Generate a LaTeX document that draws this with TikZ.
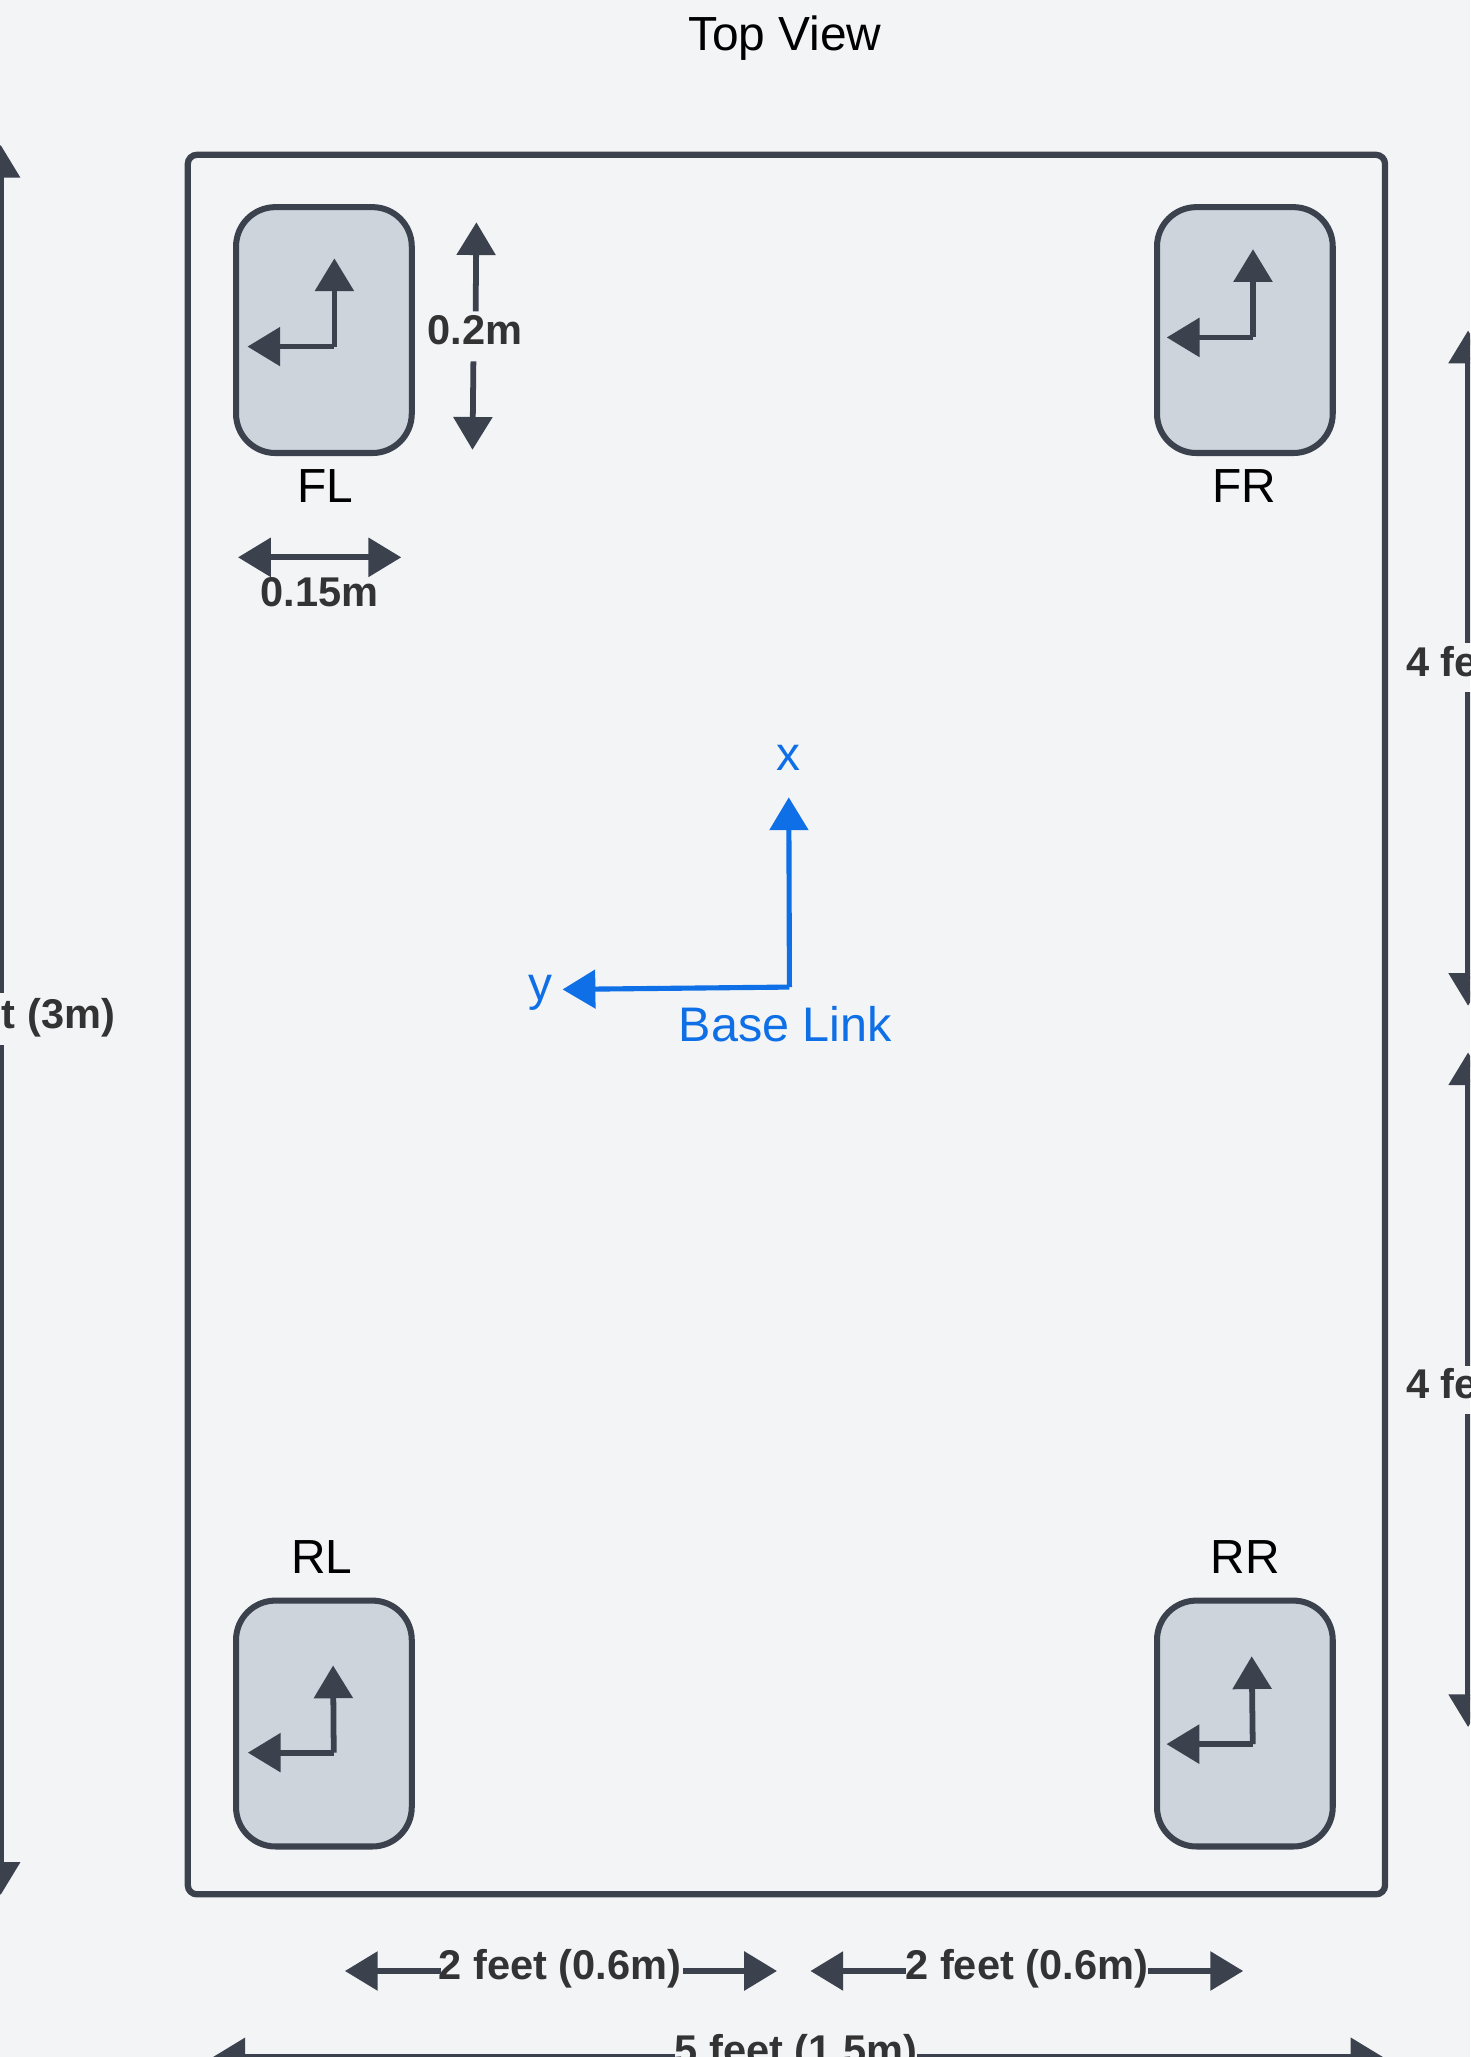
\documentclass[tikz,border=0pt]{standalone}
\usepackage{fontspec}
\setmainfont{Liberation Sans}
\usetikzlibrary{arrows.meta}
\definecolor{bgc}{HTML}{F3F4F6}
\definecolor{dark}{HTML}{3B424E}
\definecolor{wheelc}{HTML}{CDD4DC}
\definecolor{bluec}{HTML}{0E6FE6}
\definecolor{dimtxt}{HTML}{333333}
\tikzset{
  x=1pt,y=-1pt,
  tip/.style={-{Triangle[length=25pt,width=29pt]}},
  wline/.style={draw=dark,line width=4.4pt,tip},
  bline/.style={draw=bluec,line width=3.9pt,tip},
  dimline/.style={draw=dark,line width=4.4pt},
  wheelbox/.style={draw=dark,fill=wheelc,line width=4.6pt,rounded corners=30pt,minimum width=134pt,minimum height=187.5pt,inner sep=0pt},
  txt/.style={inner sep=0pt,anchor=base,font=\fontsize{36.5}{40}\selectfont,text=black},
  bluetxt/.style={txt,text=bluec},
  dimtext/.style={inner sep=0pt,anchor=base,font=\fontsize{31.7}{36}\selectfont\bfseries,text=dimtxt},
}
\begin{document}
\begin{tikzpicture}
\useasboundingbox (0,0) rectangle (1121,1568.6);
\fill[bgc] (0,0) rectangle (1121,1568.6);
\clip (0,0) rectangle (1121,1568.6);
\node[txt] (title) at (598.5,38.5) {Top View};
\node[draw=dark,line width=4.8pt,rounded corners=7pt,minimum width=913pt,minimum height=1326.5pt,inner sep=0pt] (frame) at (599.7,781.3) {};
% wheels
\node[wheelbox] (fl) at (247,251.7) {};
\node[wheelbox] (fr) at (949.3,251.7) {};
\node[wheelbox] (rl) at (247,1314.3) {};
\node[wheelbox] (rr) at (949.3,1314.3) {};
\node[txt] (flt) at (248,383) {FL};
\node[txt] (frt) at (949,383) {FR};
\node[txt] (rlt) at (245.5,1200) {RL};
\node[txt] (rrt) at (949.5,1200) {RR};
% wheel axes
\coordinate (flc) at (255,264.3);\coordinate (flu) at (255,197);\coordinate (fll) at (188.7,264.3);
\coordinate (frc) at (955.5,257.3);\coordinate (fru) at (955.5,190);\coordinate (frl) at (889.7,257.3);
\coordinate (rlc) at (254.5,1336.5);\coordinate (rlu) at (254,1270);\coordinate (rll) at (189,1336.5);
\coordinate (rrc) at (955.3,1330);\coordinate (rru) at (954.5,1263);\coordinate (rrl) at (889.5,1330);
\foreach \w in {fl,fr,rl,rr}{
  \draw[wline] (\w c) -- (\w u);
  \draw[wline] (\w c) -- (\w l);
}
% 0.2m
\node[dimtext] (h) at (362.3,263) {0.2m};
\coordinate (ha) at (362.7,237.5);\coordinate (hb) at (363.3,169.5);
\coordinate (hc) at (361,275.5);\coordinate (hd) at (360.3,343);
\draw[dimline,tip] (ha) -- (hb);
\draw[dimline,tip] (hc) -- (hd);
% 0.15m
\coordinate (wa) at (181.5,425);\coordinate (wb) at (306,425);
\draw[dimline,{Triangle[length=25pt,width=29pt]}-{Triangle[length=25pt,width=29pt]}] (wa) -- (wb);
\node[dimtext] (wt) at (243.7,462.7) {0.15m};
% base link
\coordinate (bc) at (602,752.7);\coordinate (bu) at (601.5,608);\coordinate (bl) at (429,754.5);
\draw[bline] (bc) -- (bu);
\draw[bline] (bc) -- (bl);
\node[bluetxt] (bx) at (601.5,587.5) {x};
\node[bluetxt] (by) at (412.5,763) {y};
\node[bluetxt,font=\fontsize{37}{40}\selectfont] (bt) at (599,794) {Base Link};
% left 10 feet
\node[dimtext,anchor=base east] (lt) at (88,784) {t (3m)};
\coordinate (la) at (0.5,757);\coordinate (lb) at (0.5,110.5);
\coordinate (lc) at (0.5,797);\coordinate (ld) at (0.5,1445);
\draw[dimline,tip] (la) -- (lb);
\draw[dimline,tip] (lc) -- (ld);
% right 4 feet
\node[dimtext,anchor=base west] (r1) at (1072,515.5) {4 fe};
\coordinate (r1a) at (1119.5,490.5);\coordinate (r1b) at (1119.5,252);
\coordinate (r1c) at (1119.5,527.5);\coordinate (r1d) at (1119.5,767);
\draw[dimline,tip] (r1a) -- (r1b);
\draw[dimline,tip] (r1c) -- (r1d);
\node[dimtext,anchor=base west] (r2) at (1072,1066.5) {4 fe};
\coordinate (r2a) at (1119.5,1041.5);\coordinate (r2b) at (1119.5,802.5);
\coordinate (r2c) at (1119.5,1078.5);\coordinate (r2d) at (1119.5,1317);
\draw[dimline,tip] (r2a) -- (r2b);
\draw[dimline,tip] (r2c) -- (r2d);
% bottom 2 feet
\node[dimtext] (b1) at (427,1509.3) {2 feet (0.6m)};
\coordinate (b1a) at (336,1503);\coordinate (b1b) at (263,1503);
\coordinate (b1c) at (520.5,1503);\coordinate (b1d) at (592.5,1503);
\draw[dimline,tip] (b1a) -- (b1b);
\draw[dimline,tip] (b1c) -- (b1d);
\node[dimtext] (b2) at (783,1509.3) {2 feet (0.6m)};
\coordinate (b2a) at (691,1503);\coordinate (b2b) at (618,1503);
\coordinate (b2c) at (875.5,1503);\coordinate (b2d) at (948,1503);
\draw[dimline,tip] (b2a) -- (b2b);
\draw[dimline,tip] (b2c) -- (b2d);
% bottom 5 feet
\node[dimtext] (b3) at (607,1574.3) {5 feet (1.5m)};
\coordinate (b3a) at (515,1568.8);\coordinate (b3b) at (162,1568.8);
\coordinate (b3c) at (699.5,1568.8);\coordinate (b3d) at (1055,1568.8);
\draw[dimline,tip] (b3a) -- (b3b);
\draw[dimline,tip] (b3c) -- (b3d);
\end{tikzpicture}
\end{document}
